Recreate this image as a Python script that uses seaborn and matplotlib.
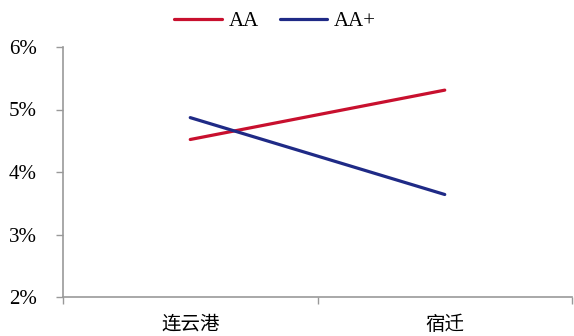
import matplotlib
matplotlib.use("Agg")
import matplotlib.pyplot as plt
import seaborn as sns
import pandas as pd
from matplotlib.ticker import FixedLocator, PercentFormatter

# Data
cities = ["连云港", "宿迁"]
aa = [4.52, 5.31]
aa_plus = [4.87, 3.64]
series_names = ["AA", "AA+"]
y_ticks = [2, 3, 4, 5, 6]

df = pd.DataFrame({
    "pos": list(range(len(cities))) * 2,
    "rate": aa + aa_plus,
    "grade": [series_names[0]] * len(cities) + [series_names[1]] * len(cities),
})

sns.set_style("white")
plt.rcParams["font.family"] = ["Liberation Serif", "Noto Sans CJK SC", "DejaVu Sans"]
plt.rcParams["text.color"] = "black"
plt.rcParams["xtick.color"] = "black"
plt.rcParams["ytick.color"] = "black"

fig = plt.figure(figsize=(5.74, 3.36), dpi=100)
ax = fig.add_axes([63 / 574, 39 / 336, 509 / 574, 250 / 336])

palette = {"AA": "#C8102E", "AA+": "#1F2A86"}
sns.lineplot(data=df, x="pos", y="rate", hue="grade", palette=palette,
             linewidth=2.3, ax=ax, legend=False)

ax.set_xlim(-0.5, len(cities) - 0.5)
ax.set_ylim(y_ticks[0], y_ticks[-1])
ax.set_yticks(y_ticks)
ax.yaxis.set_major_formatter(PercentFormatter(decimals=0))

ax.set_xticks(range(len(cities)))
ax.set_xticklabels(cities, fontfamily=["Noto Sans CJK SC"], fontsize=14)
ax.xaxis.set_minor_locator(FixedLocator([i - 0.5 for i in range(len(cities) + 1)]))
ax.tick_params(axis="x", which="major", bottom=True, length=0, pad=12, labelcolor="black")
ax.tick_params(axis="x", which="minor", bottom=True, length=5, width=1,
               color="#999999", direction="out")
ax.tick_params(axis="y", left=True, length=5, width=1, color="#999999", direction="out",
               labelsize=15, pad=14, labelcolor="black")

ax.set_xlabel("")
ax.set_ylabel("")
for side in ["top", "right"]:
    ax.spines[side].set_visible(False)
for side in ["left", "bottom"]:
    ax.spines[side].set_color("#999999")
    ax.spines[side].set_linewidth(1.2)

handles = [plt.Line2D([], [], color=palette[n], linewidth=2.3) for n in series_names]
fig.legend(handles, series_names, loc="center", bbox_to_anchor=(275 / 574, 1 - 21 / 336),
           ncol=2, frameon=False, fontsize=15, handlelength=2.3, handletextpad=0.3,
           columnspacing=1.0)

fig.savefig("out.png", dpi=100)
